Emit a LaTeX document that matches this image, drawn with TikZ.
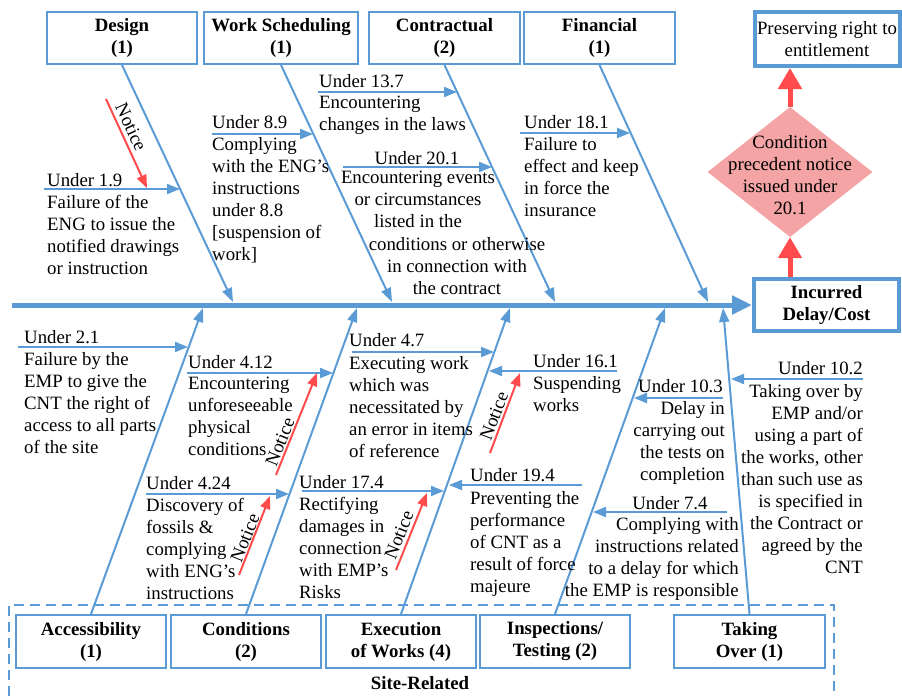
\documentclass[tikz,border=0pt]{standalone}
\usepackage{fontspec}
\setmainfont{Liberation Serif}
\usetikzlibrary{arrows.meta,shapes.geometric,positioning}
\definecolor{fishblue}{RGB}{91,155,213}
\definecolor{noticered}{RGB}{255,75,75}
\definecolor{condpink}{RGB}{244,164,164}
\newcommand{\fishfont}{\fontsize{18.8}{22}\selectfont}
\tikzset{
  catbox/.style={draw=fishblue, line width=2pt, font=\fishfont\bfseries, align=center, inner sep=0pt},
  endbox/.style={draw=fishblue, line width=4pt, font=\fishfont, align=center, inner sep=0pt},
  bone/.style={fishblue, line width=2pt, -{Triangle[length=14pt,width=10pt]}},
  twig/.style={fishblue, line width=2pt, -{Triangle[length=13pt,width=10pt]}},
  spine/.style={fishblue, line width=5pt, -{Triangle[length=20pt,width=18pt]}},
  notice/.style={noticered, line width=2pt, -{Triangle[length=13pt,width=10pt]}},
  bigred/.style={noticered, line width=5pt, -{Triangle[length=21pt,width=23pt]}},
  txt/.style={font=\fishfont, inner sep=0pt, align=left, anchor=north west},
  ntxt/.style={font=\fishfont, text=black, inner sep=0pt},
}
\begin{document}
\begin{tikzpicture}[x=1pt, y=-1pt]
  \useasboundingbox (0,0) rectangle (902,696);
  % causes above the spine
  \node[catbox, minimum width=150pt, minimum height=52pt] (design) at (122,38) {Design\\(1)};
  \node[catbox, minimum width=154pt, minimum height=52pt] (wsched) at (281,38) {Work Scheduling\\(1)};
  \node[catbox, minimum width=151pt, minimum height=52pt] (contr) at (444.5,38) {Contractual\\(2)};
  \node[catbox, minimum width=151pt, minimum height=52pt] (finan) at (599.5,38) {Financial\\(1)};
  % causes below the spine
  \node[catbox, minimum width=150pt, minimum height=53pt] (access) at (91,641.5) {Accessibility\\(1)};
  \node[catbox, minimum width=150pt, minimum height=53pt] (condit) at (246,641.5) {Conditions\\(2)};
  \node[catbox, minimum width=150pt, minimum height=53pt] (exec) at (401,641.5) {Execution\\of Works (4)};
  \node[catbox, minimum width=150pt, minimum height=53pt] (insp) at (555,641.5) {Inspections/\\Testing (2)};
  \node[catbox, minimum width=151pt, minimum height=53pt] (takeover) at (749.5,641.5) {Taking\\Over (1)};
  \draw[fishblue, line width=1.5pt, dash pattern=on 10pt off 6pt] (9,696) -- (9,605) -- (834,605) -- (834,696);
  \node[font=\fishfont\bfseries, inner sep=0pt] (site) at (420,683) {Site-Related};
  % effect side
  \node[endbox, minimum width=145pt, minimum height=52pt, font=\fishfont\bfseries] (incurred) at (826.5,305) {Incurred\\Delay/Cost};
  \node[endbox, minimum width=145pt, minimum height=54pt] (preserve) at (827,39) {Preserving right to\\entitlement};
  \node[diamond, fill=condpink, minimum width=165pt, minimum height=130pt, aspect=1.27, inner sep=0pt] (cond) at (790,172) {};
  \node[font=\fishfont, align=center, inner sep=0pt] (condtxt) at (790,175) {Condition\\precedent notice\\issued under\\20.1};
  \draw[bigred] (cond.north) -- (cond.north |- preserve.south);
  \draw[bigred] (cond.south |- incurred.north) -- (cond.south);
  \coordinate (tail) at (12,305);
  \draw[spine] (tail) -- (incurred.west);
  % bones
  \coordinate (dsgn) at (233,302);
  \coordinate (wsch) at (392,302);
  \coordinate (ctrc) at (555,302);
  \coordinate (fnnc) at (708,302);
  \coordinate (accs) at (203,308);
  \coordinate (cndt) at (357,308);
  \coordinate (exct) at (510,308);
  \coordinate (insc) at (665,308);
  \coordinate (tkov) at (723,308);
  \draw[bone] (design.south) -- (dsgn);
  \draw[bone] (wsched.south) -- (wsch);
  \draw[bone] (contr.south) -- (ctrc);
  \draw[bone] (finan.south) -- (fnnc);
  \draw[bone] (access.north) -- (accs);
  \draw[bone] (condit.north) -- (cndt);
  \draw[bone] (exec.north) -- (exct);
  \draw[bone] (insp.north) -- (insc);
  \draw[bone] (takeover.north) -- (tkov);
  % design
  \node[txt] (l19) at (47,173) {Under 1.9};
  \node[txt] (b19) at (47,195) {Failure of the\\ENG to issue the\\notified drawings\\or instruction};
  \coordinate (t19s) at (44,189);
  \coordinate (t19e) at (180,189);
  \draw[twig] (t19s) -- (t19e);
  \coordinate (n19s) at (106,99);
  \coordinate (n19e) at (147,188);
  \draw[notice] (n19s) -- (n19e);
  \node[ntxt, rotate=-65] (nt19) at (131,127) {Notice};
  % work scheduling
  \node[txt] (l89) at (212,115) {Under 8.9};
  \node[txt] (b89) at (212,137) {Complying\\with the ENG's\\instructions\\under 8.8\\{[suspension of}\\work]};
  \coordinate (t89s) at (212,134);
  \coordinate (t89e) at (313,134);
  \draw[twig] (t89s) -- (t89e);
  % contractual
  \node[txt] (l137) at (319,74) {Under 13.7};
  \node[txt] (b137) at (319,96) {Encountering\\changes in the laws};
  \coordinate (t137s) at (318,92);
  \coordinate (t137e) at (457,92);
  \draw[twig] (t137s) -- (t137e);
  \node[txt, anchor=north] (l201) at (417,151) {Under 20.1};
  \node[txt, anchor=north, align=center] (b201a) at (418,171) {Encountering events\\or circumstances\\listed in the};
  \node[txt, anchor=north, align=center] (b201b) at (457,237) {conditions or otherwise\\in connection with\\the contract};
  \coordinate (t201s) at (343,167);
  \coordinate (t201e) at (492,167);
  \draw[twig] (t201s) -- (t201e);
  % financial
  \node[txt] (l181) at (524,115) {Under 18.1};
  \node[txt] (b181) at (524,137) {Failure to\\effect and keep\\in force the\\insurance};
  \coordinate (t181s) at (520,133);
  \coordinate (t181e) at (630,133);
  \draw[twig] (t181s) -- (t181e);
  % accessibility
  \node[txt] (l21) at (24,330) {Under 2.1};
  \node[txt] (b21) at (24,352) {Failure by the\\EMP to give the\\CNT the right of\\access to all parts\\of the site};
  \coordinate (t21s) at (18,347);
  \coordinate (t21e) at (188,347);
  \draw[twig] (t21s) -- (t21e);
  % conditions
  \node[txt] (l412) at (188,355) {Under 4.12};
  \node[txt] (b412) at (188,377) {Encountering\\unforeseeable\\physical\\conditions};
  \coordinate (t412s) at (187,373);
  \coordinate (t412e) at (333,373);
  \draw[twig] (t412s) -- (t412e);
  \coordinate (n412s) at (276,475);
  \coordinate (n412e) at (317,373);
  \draw[notice] (n412s) -- (n412e);
  \node[ntxt, rotate=68] (nt412) at (280,442) {Notice};
  \node[txt] (l424) at (146,476) {Under 4.24};
  \node[txt] (b424) at (146,498) {Discovery of\\fossils \&\\complying\\with ENG's\\instructions};
  \coordinate (t424s) at (146,494);
  \coordinate (t424e) at (289,494);
  \draw[twig] (t424s) -- (t424e);
  \coordinate (n424s) at (239,575);
  \coordinate (n424e) at (270,496);
  \draw[notice] (n424s) -- (n424e);
  \node[ntxt, rotate=68] (nt424) at (245,538) {Notice};
  % execution of works
  \node[txt] (l47) at (349,333) {Under 4.7};
  \node[txt] (b47) at (349,356) {Executing work\\which was\\necessitated by\\an error in items\\of reference};
  \coordinate (t47s) at (352,352);
  \coordinate (t47e) at (494,352);
  \draw[twig] (t47s) -- (t47e);
  \node[txt] (l174) at (299,475) {Under 17.4};
  \node[txt] (b174) at (299,497) {Rectifying\\damages in\\connection\\with EMP's\\Risks};
  \coordinate (t174s) at (302,491);
  \coordinate (t174e) at (444,491);
  \draw[twig] (t174s) -- (t174e);
  \coordinate (n174s) at (396,570);
  \coordinate (n174e) at (427,493);
  \draw[notice] (n174s) -- (n174e);
  \node[ntxt, rotate=68] (nt174) at (399,535) {Notice};
  \node[txt] (l161) at (533,354) {Under 16.1};
  \node[txt] (b161) at (533,376) {Suspending\\works};
  \coordinate (t161s) at (617,371);
  \coordinate (t161e) at (489,371);
  \draw[twig] (t161s) -- (t161e);
  \coordinate (n161s) at (490,453);
  \coordinate (n161e) at (520,373);
  \draw[notice] (n161s) -- (n161e);
  \node[ntxt, rotate=69] (nt161) at (494,416) {Notice};
  \node[txt] (l194) at (470,468) {Under 19.4};
  \node[txt] (b194) at (470,491) {Preventing the\\performance\\of CNT as a\\result of force\\majeure};
  \coordinate (t194s) at (582,485);
  \coordinate (t194e) at (449,485);
  \draw[twig] (t194s) -- (t194e);
  % inspections/testing
  \node[txt, anchor=north east] (l103) at (723,379) {Under 10.3};
  \node[txt, anchor=north east, align=right] (b103) at (725,401) {Delay in\\carrying out\\the tests on\\completion};
  \coordinate (t103s) at (723,398);
  \coordinate (t103e) at (634,398);
  \draw[twig] (t103s) -- (t103e);
  \node[txt, anchor=north] (l74) at (670,496) {Under 7.4};
  \node[txt, anchor=north east, align=right] (b74) at (739,517) {Complying with\\instructions related\\to a delay for which\\the EMP is responsible};
  \coordinate (t74s) at (727,512);
  \coordinate (t74e) at (593,512);
  \draw[twig] (t74s) -- (t74e);
  % taking over
  \node[txt, anchor=north east] (l102) at (863,361) {Under 10.2};
  \node[txt, anchor=north east, align=right] (b102) at (863,384) {Taking over by\\EMP and/or\\using a part of\\the works, other\\than such use as\\is specified in\\the Contract or\\agreed by the\\CNT};
  \coordinate (t102s) at (863,379);
  \coordinate (t102e) at (731,379);
  \draw[twig] (t102s) -- (t102e);
\end{tikzpicture}
\end{document}
